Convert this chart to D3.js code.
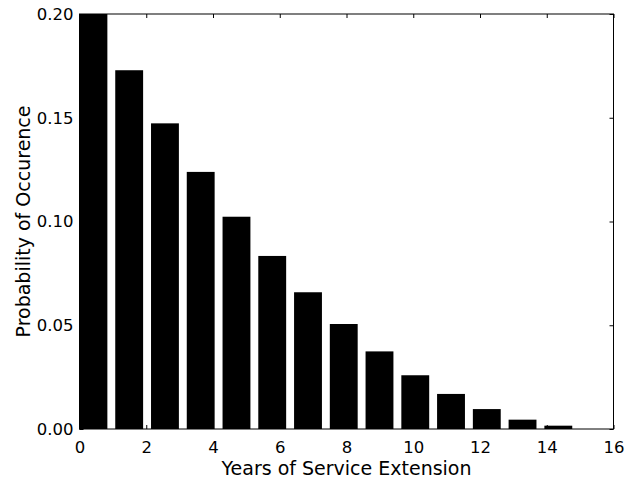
<!DOCTYPE html>
<html>
<head>
<meta charset="utf-8">
<title>Years of Service Extension</title>
<script src="https://d3js.org/d3.v7.min.js"></script>
<style>
  body { margin: 0; background: #fff; }
  svg text { font-family: "DejaVu Sans", sans-serif; fill: #000; }
</style>
</head>
<body>
<div id="chart"></div>
<script>
// bin left edges (14 bins over 0..15) and probabilities
const binStart = [0, 1.071, 2.143, 3.214, 4.286, 5.357, 6.429, 7.5, 8.571, 9.643, 10.714, 11.786, 12.857, 13.929];
const prob = [0.2005, 0.1729, 0.1473, 0.1239, 0.1023, 0.0834, 0.0659, 0.0506, 0.0374, 0.0259, 0.0169, 0.0096, 0.0045, 0.0016];
const barWidth = 0.835;
const xTicks = [0, 2, 4, 6, 8, 10, 12, 14, 16];
const yTicks = [0, 0.05, 0.10, 0.15, 0.20];

const width = 628, height = 480;
const plotLeft = 79.5, plotRight = 613.5, plotTop = 14, plotBottom = 429;

const svg = d3.select("#chart").append("svg")
    .attr("width", width)
    .attr("height", height);

const x = d3.scaleLinear().domain([0, 16]).range([plotLeft, plotRight]);
const y = d3.scaleLinear().domain([0, 0.2]).range([plotBottom, plotTop]);

// clip bars to the axes box
svg.append("clipPath").attr("id", "plot")
  .append("rect")
    .attr("x", plotLeft).attr("y", plotTop)
    .attr("width", plotRight - plotLeft).attr("height", plotBottom - plotTop);

svg.append("g")
    .attr("clip-path", "url(#plot)")
  .selectAll("rect")
  .data(prob)
  .join("rect")
    .attr("x", (d, i) => x(binStart[i]))
    .attr("width", (d, i) => x(binStart[i] + barWidth) - x(binStart[i]))
    .attr("y", d => y(d))
    .attr("height", d => y(0) - y(d))
    .attr("fill", "#000");

// axes, ticks pointing inward on all four sides
const fmtY = d3.format(".2f");
svg.append("g")
    .attr("transform", `translate(0,${plotBottom})`)
    .call(d3.axisBottom(x).tickValues(xTicks).tickSize(-4).tickPadding(12).tickFormat(d3.format("d")))
    .call(g => g.select(".domain").remove())
    .call(g => g.selectAll("text").style("font-size", "16.5px"));

svg.append("g")
    .attr("transform", `translate(0,${plotTop})`)
    .call(d3.axisTop(x).tickValues(xTicks).tickSize(-4).tickFormat(""))
    .call(g => g.select(".domain").remove());

svg.append("g")
    .attr("transform", `translate(${plotLeft},0)`)
    .call(d3.axisLeft(y).tickValues(yTicks).tickSize(-4).tickPadding(6).tickFormat(fmtY))
    .call(g => g.select(".domain").remove())
    .call(g => g.selectAll("text").style("font-size", "16.5px"));

svg.append("g")
    .attr("transform", `translate(${plotRight},0)`)
    .call(d3.axisRight(y).tickValues(yTicks).tickSize(-4).tickFormat(""))
    .call(g => g.select(".domain").remove());

svg.append("rect")
    .attr("x", plotLeft).attr("y", plotTop)
    .attr("width", plotRight - plotLeft).attr("height", plotBottom - plotTop)
    .attr("fill", "none")
    .attr("stroke", "#000")
    .attr("stroke-width", 1);

// axis labels
svg.append("text")
    .attr("x", (plotLeft + plotRight) / 2)
    .attr("y", 475)
    .attr("text-anchor", "middle")
    .style("font-size", "19px")
    .text("Years of Service Extension");

svg.append("text")
    .attr("transform", `translate(29.5,${(plotTop + plotBottom) / 2}) rotate(-90)`)
    .attr("text-anchor", "middle")
    .style("font-size", "19px")
    .text("Probability of Occurence");
</script>
</body>
</html>
